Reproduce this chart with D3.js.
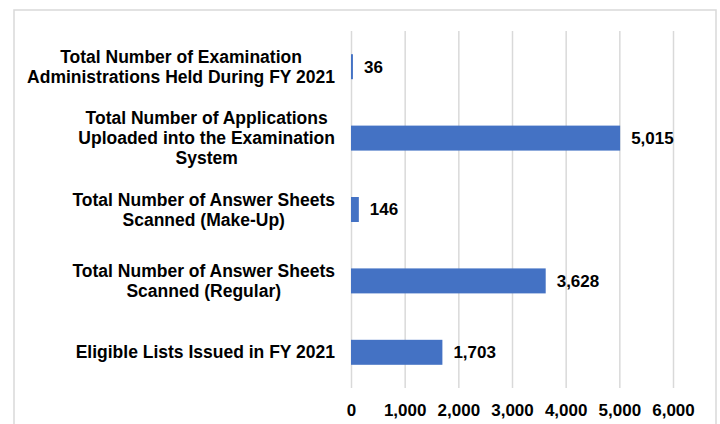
<!DOCTYPE html>
<html lang="en">
<head>
<meta charset="UTF-8">
<title>Examination statistics FY 2021</title>
<script src="https://d3js.org/d3.v7.min.js"></script>
<style>
    body { margin: 0; background: #fff; }
    svg { display: block; font-family: "Liberation Sans", Arial, sans-serif; }
    .cat { font-size: 17.5px; font-weight: bold; fill: #000; }
    .val { font-size: 17px; font-weight: bold; fill: #000; }
    .tick text { font-size: 17px; font-weight: bold; fill: #000; }
</style>
</head>
<body>
<div id="chart"></div>
<script>
// category labels (line breaks as in the original)
const categories = [
    "Total Number of Examination Administrations Held During FY 2021",
    "Total Number of Applications Uploaded into the Examination System",
    "Total Number of Answer Sheets Scanned (Make-Up)",
    "Total Number of Answer Sheets Scanned (Regular)",
    "Eligible Lists Issued in FY 2021"
];
const categoryLines = [
    ["Total Number of Examination", "Administrations Held During FY 2021"],
    ["Total Number of Applications", "Uploaded into the Examination", "System"],
    ["Total Number of Answer Sheets", "Scanned (Make-Up)"],
    ["Total Number of Answer Sheets", "Scanned (Regular)"],
    ["Eligible Lists Issued in FY 2021"]
];
const values = [36, 5015, 146, 3628, 1703];
const tickValues = [0, 1000, 2000, 3000, 4000, 5000, 6000];

const W = 720, H = 424;
const plot = { left: 351, right: 673, top: 31, bottom: 388 };

const svg = d3.select("#chart").append("svg")
    .attr("width", W).attr("height", H);

// outer frame
svg.append("rect")
    .attr("x", 14).attr("y", 10)
    .attr("width", 702).attr("height", 430)
    .attr("fill", "none").attr("stroke", "#d9d9d9").attr("stroke-width", 1.5);

const x = d3.scaleLinear().domain([0, 6000]).range([plot.left, plot.right]);
const y = d3.scaleBand().domain(categories)
    .range([plot.top, plot.bottom])
    .paddingInner(0.65).paddingOuter(0.325);

// gridlines
svg.append("g")
    .attr("transform", `translate(0,${plot.bottom})`)
    .call(d3.axisBottom(x).tickValues(tickValues).tickSize(-(plot.bottom - plot.top)).tickFormat(""))
    .call(g => g.select(".domain").remove())
    .call(g => g.selectAll("line").attr("stroke", "#d9d9d9").attr("stroke-width", 1.5));

// x tick labels
svg.append("g")
    .attr("transform", `translate(0,${plot.bottom})`)
    .call(d3.axisBottom(x).tickValues(tickValues).tickSize(0).tickPadding(16).tickFormat(d3.format(",")))
    .call(g => g.select(".domain").remove());

// bars
svg.selectAll(".bar")
    .data(values)
    .enter().append("rect")
    .attr("class", "bar")
    .attr("x", x(0))
    .attr("y", (d, i) => y(categories[i]))
    .attr("width", d => x(d) - x(0))
    .attr("height", y.bandwidth())
    .attr("fill", "#4472c4");

// value labels
svg.selectAll(".val")
    .data(values)
    .enter().append("text")
    .attr("class", "val")
    .attr("x", d => x(d) + 11)
    .attr("y", (d, i) => y(categories[i]) + y.bandwidth() / 2)
    .attr("dy", "0.35em")
    .text(d => d3.format(",")(d));

// category labels: centred lines, block right-aligned
const labelRight = 335, lineH = 20;
categoryLines.forEach((lines, i) => {
    const cy = y(categories[i]) + y.bandwidth() / 2;
    const t = svg.append("text").attr("class", "cat").attr("text-anchor", "middle");
    const n = lines.length;
    lines.forEach((ln, j) => {
        t.append("tspan")
            .attr("y", cy + (j - (n - 1) / 2) * lineH)
            .attr("dy", "0.35em")
            .text(ln);
    });
    let maxW = 0;
    t.selectAll("tspan").each(function () {
        maxW = Math.max(maxW, this.getComputedTextLength());
    });
    t.selectAll("tspan").attr("x", labelRight - maxW / 2);
});
</script>
</body>
</html>
